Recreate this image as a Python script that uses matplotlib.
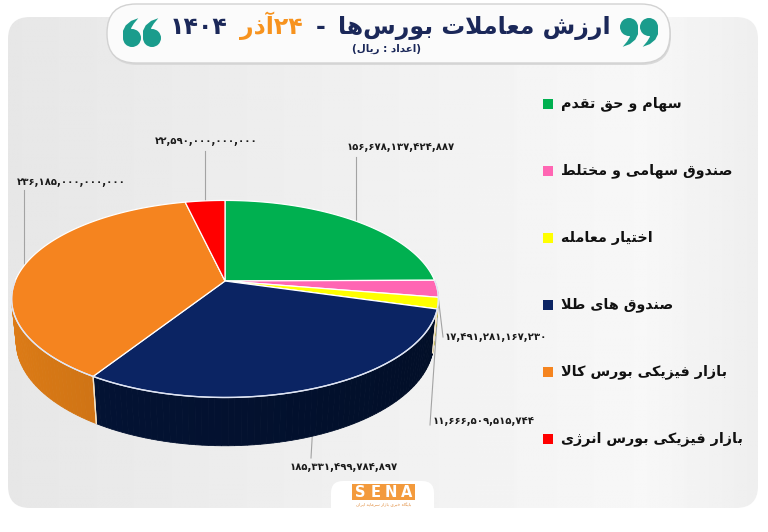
import re
import numpy as np
import matplotlib
matplotlib.use('Agg')
import matplotlib.pyplot as plt
from matplotlib.patches import Polygon, FancyBboxPatch, Rectangle, Circle
from matplotlib.offsetbox import TextArea, HPacker, AnnotationBbox
from matplotlib.colors import to_rgb

plt.rcParams['font.family'] = ['DejaVu Sans']

# data (rial), clockwise from 12 o'clock
labels = ['سهام و حق تقدم', 'صندوق سهامی و مختلط', 'اختیار معامله',
          'صندوق های طلا', 'بازار فیزیکی بورس کالا', 'بازار فیزیکی بورس انرژی']
values = [156678137424887, 17491281167230, 11666509515744,
          185331499784897, 236185000000000, 22590000000000]
colors = ['#00B050', '#FF66B3', '#FFFF00', '#0B2463', '#F5841F', '#FF0000']
side_colors = ['#008A3E', '#D94F95', '#D6D600', '#031437', '#DE7C16', '#C80000']

title_main = 'ارزش معاملات بورس\u200cها'
title_day = '۲۴آذر'
title_year = '۱۴۰۴'
subtitle = '(اعداد : ریال)'

# ---- minimal persian shaping (no arabic_reshaper available) ----
FORMS = {}
for ch, base in [('ب', 0xFE8F), ('ت', 0xFE95), ('ث', 0xFE99), ('ج', 0xFE9D), ('ح', 0xFEA1),
                 ('خ', 0xFEA5), ('س', 0xFEB1), ('ش', 0xFEB5), ('ص', 0xFEB9), ('ض', 0xFEBD),
                 ('ط', 0xFEC1), ('ظ', 0xFEC5), ('ع', 0xFEC9), ('غ', 0xFECD), ('ف', 0xFED1),
                 ('ق', 0xFED5), ('ل', 0xFEDD), ('م', 0xFEE1), ('ن', 0xFEE5), ('ه', 0xFEE9),
                 ('ئ', 0xFE89), ('پ', 0xFB56), ('چ', 0xFB7A), ('ک', 0xFB8E), ('گ', 0xFB92),
                 ('ی', 0xFBFC)]:
    FORMS[ch] = tuple(chr(base + k) for k in range(4))
for ch, base in [('آ', 0xFE81), ('ا', 0xFE8D), ('د', 0xFEA9), ('ذ', 0xFEAB), ('ر', 0xFEAD),
                 ('ز', 0xFEAF), ('ژ', 0xFB8A), ('و', 0xFEED)]:
    FORMS[ch] = (chr(base), chr(base + 1))
LAM_ALEF = {'ا': ('\uFEFB', '\uFEFC'), 'آ': ('\uFEF5', '\uFEF6')}


def shape(s):
    s = s.replace('ي', 'ی').replace('ك', 'ک')
    out = []
    i = 0
    while i < len(s):
        ch = s[i]
        if ch in FORMS:
            prev = s[i - 1] if i > 0 else ''
            pj = prev in FORMS and len(FORMS[prev]) == 4
            nxt = s[i + 1] if i + 1 < len(s) else ''
            if ch == 'ل' and nxt in LAM_ALEF:
                out.append(LAM_ALEF[nxt][1 if pj else 0])
                i += 2
                continue
            nj = len(FORMS[ch]) == 4 and nxt in FORMS
            f = FORMS[ch]
            if pj and nj:
                out.append(f[3])
            elif pj:
                out.append(f[1])
            elif nj:
                out.append(f[2])
            else:
                out.append(f[0])
        elif ch != '\u200c':
            out.append(ch)
        i += 1
    return ''.join(out)


def fa(s):
    v = shape(s)[::-1]
    v = re.sub(r'[0-9۰-۹,]+', lambda m: m.group(0)[::-1], v)
    return v.translate(str.maketrans('()', ')('))


def fa_num(v):
    return f'{v:,}'.translate(str.maketrans('0123456789', '۰۱۲۳۴۵۶۷۸۹'))


# ---- 3d pie projection (perspective) ----
CX, CY = 225, 281
FOC, DIST, ELEV, THICK = 1026.0, 4.89, np.radians(27), 0.23


def proj(t, depth=0.0):
    t = np.radians(t)
    x, z, y = np.cos(t), np.sin(t), -depth
    yc = y * np.cos(ELEV) + z * np.sin(ELEV)
    zc = -y * np.sin(ELEV) + z * np.cos(ELEV) + DIST
    return CX + FOC * x / zc, CY - FOC * yc / zc


def comma(ax, hx, hy, r, flip, color):
    s = -1 if flip else 1
    tail = [(1.0, 0), (1.0, 0.8), (0.7, 1.4), (0.1, 1.9), (-0.7, 2.2),
            (-0.2, 1.6), (0.1, 1.1), (0, 0.5)]
    ax.add_patch(Circle((hx, hy), r, fc=color, ec='none', zorder=3))
    ax.add_patch(Polygon([(hx + s * r * a, hy + s * r * b) for a, b in tail],
                         closed=True, fc=color, ec='none', zorder=3))


fig = plt.figure(figsize=(7.68, 5.32), dpi=100)
ax = fig.add_axes([0, 0, 1, 1])

# background card
panel = FancyBboxPatch((8, 17), 750, 491, boxstyle='round,pad=0,rounding_size=22',
                       fc='none', ec='none')
ax.add_patch(panel)
xs = np.linspace(0, 1, 300)
shade = np.interp(xs, [0, 0.45, 0.85, 1], [0.905, 0.94, 0.97, 0.935])
im = ax.imshow(np.tile(shade, (10, 1)), cmap='gray', vmin=0, vmax=1,
               extent=(8, 758, 508, 17), aspect='auto', zorder=0.5)
im.set_clip_path(panel)

# title pill
ax.add_patch(FancyBboxPatch((108, 6), 563, 59, boxstyle='round,pad=0,rounding_size=29',
                            fc='#D9D9D9', ec='none', zorder=1.8))
ax.add_patch(FancyBboxPatch((107, 4), 563, 59, boxstyle='round,pad=0,rounding_size=29',
                            fc='#FBFBFB', ec='#D2D2D2', lw=1.0, zorder=2))
teal = '#1A9C8C'
for hx in (132, 152):
    comma(ax, hx, 38, 9, True, teal)
for hx in (629, 649):
    comma(ax, hx, 27, 9, False, teal)

navy = '#1B2859'
tp = dict(fontsize=17, fontweight='bold')
pieces = [TextArea(fa(title_year), textprops=dict(color=navy, **tp)),
          TextArea(fa(title_day), textprops=dict(color='#F7931E', **tp)),
          TextArea('-', textprops=dict(color=navy, **tp)),
          TextArea(fa(title_main), textprops=dict(color=navy, **tp))]
box = HPacker(children=pieces, align='baseline', pad=0, sep=9)
ax.add_artist(AnnotationBbox(box, (390, 26), xycoords='data', frameon=False,
                             box_alignment=(0.5, 0.5), zorder=3))
ax.text(386, 49, fa(subtitle), fontsize=7.5, fontweight='bold', color=navy,
        ha='center', va='center', zorder=3)

# slices
vals = np.array(values, dtype=float)
spans = 360 * vals / vals.sum()
bounds = 90 - np.concatenate([[0], np.cumsum(spans)])

# sides (front half only)
for i in range(len(vals)):
    t1, t2 = bounds[i + 1], bounds[i]
    lo, hi = max(t1, -180), min(t2, 0)
    if lo >= hi:
        continue
    ts = np.linspace(lo, hi, max(int((hi - lo) / 1.5) + 2, 2))
    base = np.array(to_rgb(side_colors[i]))
    for a, b in zip(ts[:-1], ts[1:]):
        m = np.radians((a + b) / 2)
        k = 0.86 + 0.14 * (-np.cos(m))
        c = np.clip(base * k, 0, 1)
        pts = [proj(a), proj(b), proj(b, THICK), proj(a, THICK)]
        ax.add_patch(Polygon(pts, closed=True, fc=c, ec=c, lw=0.6, zorder=3))
    for t in (t1, t2):
        if -180 < t < 0:
            x0, y0 = proj(t)
            x1, y1 = proj(t, THICK)
            ax.plot([x0, x1], [y0, y1], color='#F3E3C8', lw=0.9, zorder=3.5)

# top faces
for i in range(len(vals)):
    ts = np.linspace(bounds[i], bounds[i + 1], 120)
    arc = [proj(t) for t in ts]
    ax.add_patch(Polygon([(CX, CY)] + arc, closed=True, fc=colors[i],
                         ec='#FFFFFF', lw=0.9, joinstyle='round', zorder=4))

# front rim highlight
rim = np.linspace(-180, 0, 200)
ax.plot([proj(t)[0] for t in rim], [proj(t)[1] for t in rim], color='#DCE3F5',
        lw=1.0, alpha=0.9, zorder=4.5)

# leader lines + value labels
lead_end = [(None, 157), (443, 337), (430, 425), (311, 458), (None, 190), (None, 151)]
lab_pos = [(347, 147), (445, 337), (433, 421), (290, 467), (17, 182), (155, 141)]
for i in range(len(vals)):
    mid = (bounds[i] + bounds[i + 1]) / 2
    mx, my = proj(mid)
    ex, ey = lead_end[i]
    ex = mx if ex is None else ex
    ax.plot([mx, ex], [my, ey], color='#A3A3A3', lw=0.8, zorder=2.5)
    ax.text(lab_pos[i][0], lab_pos[i][1], fa_num(values[i]), fontsize=7.3,
            fontweight='bold', color='#1A1A1A', ha='left', va='center', zorder=5)

# legend
rows = [104, 171, 238, 305, 372, 439]
for i, lab in enumerate(labels):
    ax.add_patch(Rectangle((543, rows[i] - 5), 10, 10, fc=colors[i], ec='none', zorder=5))
    ax.text(561, rows[i], fa(lab), fontsize=10.3, fontweight='bold', color='#111111',
            ha='left', va='center', zorder=5)

# SENA logo
ax.add_patch(FancyBboxPatch((331, 481), 103, 60, boxstyle='round,pad=0,rounding_size=12',
                            fc='white', ec='none', zorder=1))
ax.add_patch(Rectangle((352, 484), 63, 16, fc='#F39A3C', ec='none', zorder=5))
for k, ch in enumerate('SENA'):
    ax.text(360 + k * 15.5, 492.5, ch, fontsize=10.5, fontweight='bold', color='white',
            ha='center', va='center', zorder=6)
ax.text(383.5, 505, fa('پایگاه خبری بازار سرمایه ایران'), fontsize=3.2, color='#E08A3A',
        ha='center', va='center', zorder=6)

ax.set_xlim(0, 768)
ax.set_ylim(532, 0)
ax.axis('off')
fig.savefig('out.png', dpi=100, facecolor='white')
